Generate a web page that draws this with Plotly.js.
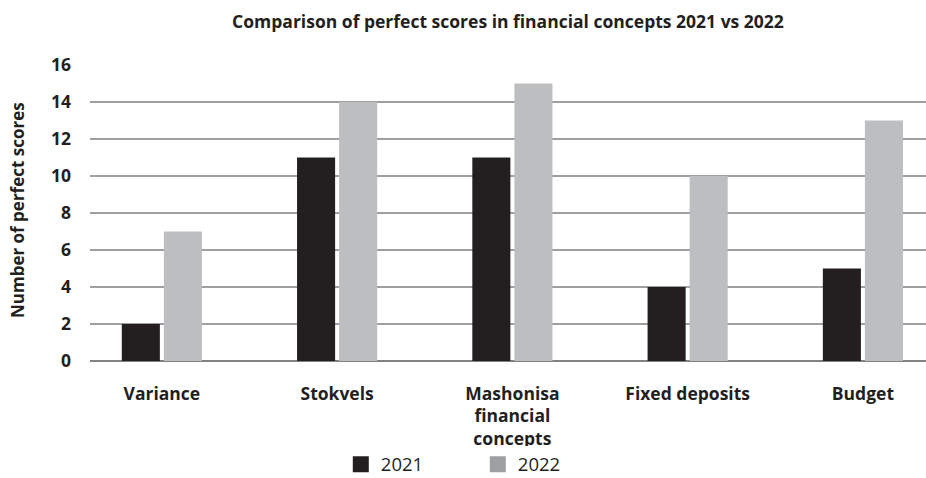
<!DOCTYPE html>
<html><head><meta charset="utf-8">
<script src="https://cdn.plot.ly/plotly-3.0.1.min.js"></script>
<style>body{margin:0;background:#fff}#c{width:926px;height:478px}</style>
</head><body><div id="c"></div>
<script>
const categories = ["Variance", "Stokvels", "Mashonisa<br>financial<br>concepts", "Fixed deposits", "Budget"];
const values2021 = [2, 11, 11, 4, 5];
const values2022 = [7, 14, 15, 10, 13];
const yTicks = [0, 2, 4, 6, 8, 10, 12, 14, 16];
const seriesNames = ["2021", "2022"];

const F = "'Open Sans', 'Noto Sans', sans-serif";
const traces = [
  {type:'bar', name:seriesNames[0], x:categories, y:values2021, marker:{color:'#231f20'}, showlegend:false, hoverinfo:'skip'},
  {type:'bar', name:seriesNames[1], x:categories, y:values2022, marker:{color:'#bcbec0'}, showlegend:false, hoverinfo:'skip'},
  {type:'scatter', mode:'markers', name:seriesNames[0], x:[null], y:[null], xaxis:'x2', yaxis:'y2', marker:{color:'#231f20', symbol:'square', size:19}, showlegend:true},
  {type:'scatter', mode:'markers', name:seriesNames[1], x:[null], y:[null], xaxis:'x2', yaxis:'y2', marker:{color:'#9d9fa2', symbol:'square', size:19}, showlegend:true}
];
const layout = {
  width:926, height:478,
  margin:{l:90, r:0, t:65, b:117, autoexpand:false},
  paper_bgcolor:'#fff', plot_bgcolor:'#fff',
  barmode:'group', bargap:0.52, bargroupgap:0.095,
  title:{text:'<b>Comparison of perfect scores in financial concepts 2021 vs 2022</b>', font:{family:F, size:17.5, color:'#231f20'}, x:0.5, xanchor:'center', xref:'paper', y:0.955, yanchor:'middle'},
  xaxis:{type:'category', automargin:false, range:[-0.41, 4.36], showgrid:false, showline:false, ticks:'', tickfont:{family:F, size:17.5, color:'#231f20', weight:'bold'}, ticklabelstandoff:20, fixedrange:true},
  yaxis:{automargin:false, range:[0,16], tickvals:yTicks, ticktext:yTicks.map(v=>'<b>'+v+'</b>'), showgrid:true, gridcolor:'#9d9fa2', gridwidth:1.5, zeroline:true, zerolinecolor:'#808285', zerolinewidth:2, ticks:'', tickfont:{family:F, size:17.5, color:'#231f20'}, ticklabelstandoff:18},
  xaxis2:{visible:false, overlaying:'x', range:[0,1]},
  yaxis2:{visible:false, overlaying:'y', range:[0,1]},
  annotations:[{text:'<b>Number of perfect scores</b>', textangle:-90, xref:'paper', yref:'paper', x:-0.0873, y:0.51, xanchor:'center', yanchor:'middle', showarrow:false, font:{family:F, size:17, color:'#231f20'}}],
  legend:{orientation:'h', x:0.30, xanchor:'left', y:-0.35, yanchor:'middle', font:{family:F, size:18.5, color:'#231f20'}, traceorder:'normal', entrywidth:92},
  showlegend:true
};
Plotly.newPlot('c', traces, layout, {displayModeBar:false, staticPlot:true});
</script></body></html>
